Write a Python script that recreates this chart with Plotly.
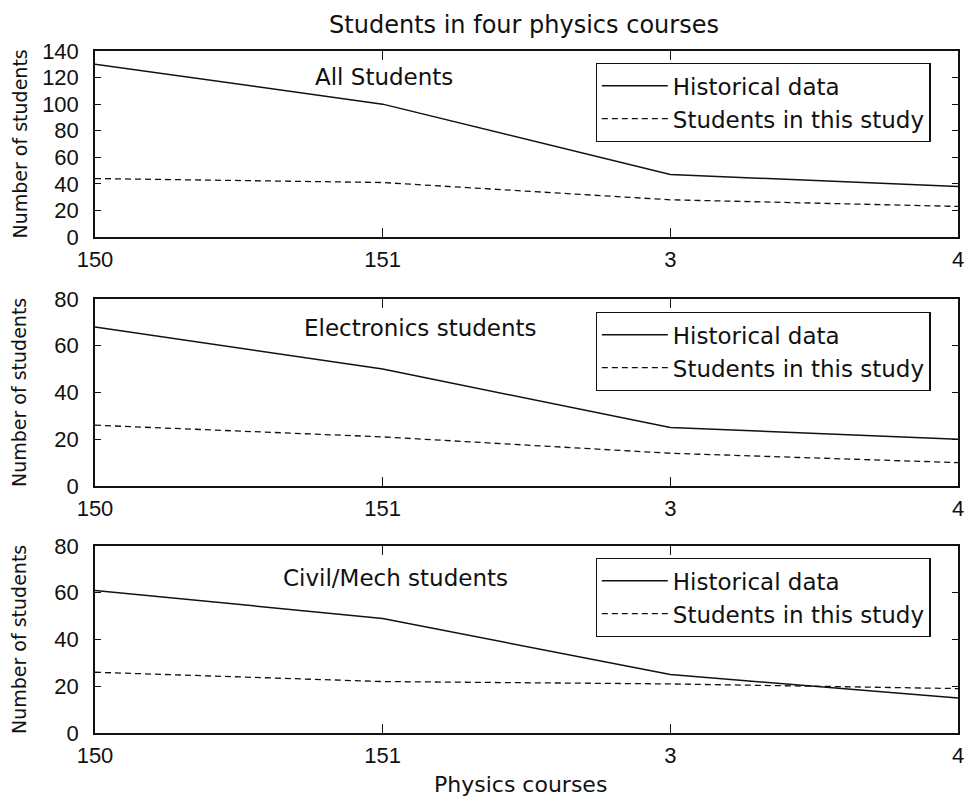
import plotly.graph_objects as go
from plotly.subplots import make_subplots

# Course sequence on the x axis
courses = ["150", "151", "3", "4"]

# Enrolment per course: historical records vs. students in this study
all_hist = [130, 100, 47, 38]
all_study = [44, 41, 28, 23]

elec_hist = [68, 50, 25, 20]
elec_study = [26, 21, 14, 10]

civ_hist = [61, 49, 25, 15]
civ_study = [26, 22, 21, 19]

panel_titles = ["All Students", "Electronics students", "Civil/Mech students"]
y_maxes = [140, 80, 80]

NUM_FONT = "Liberation Sans, Arial, Helvetica, sans-serif"
TXT_FONT = "DejaVu Sans, Verdana, sans-serif"
INK = "#111111"

W, H = 972, 798
ML, MR, MT, MB = 95, 8, 51, 65

fig = make_subplots(rows=3, cols=1, shared_xaxes=False, vertical_spacing=0.05)

# Vertical extent of each panel (paper fractions)
domains = [(0.7273, 1.0), (0.3622, 0.6364), (0.0, 0.2742)]
legend_tops = [0.9824, 0.6173, 0.2566]
label_pos = [(0.3354, 0.9619), (0.3769, 0.5938), (0.3487, 0.2273)]

series = [(all_hist, all_study), (elec_hist, elec_study), (civ_hist, civ_study)]

for i, (hist, study) in enumerate(series):
    row = i + 1
    leg = "legend" if i == 0 else f"legend{row}"
    fig.add_trace(go.Scatter(x=courses, y=hist, mode="lines", name="Historical data",
                             line=dict(color=INK, width=1.5), legend=leg), row=row, col=1)
    fig.add_trace(go.Scatter(x=courses, y=study, mode="lines", name="Students in this study",
                             line=dict(color=INK, width=1.3, dash="6px,4px"), legend=leg),
                  row=row, col=1)

    ax = dict(showline=True, linecolor=INK, linewidth=1.5, mirror="ticks",
              ticks="inside", tickcolor=INK, tickwidth=1.3,
              showgrid=False, zeroline=False)
    fig.update_xaxes(type="category", range=[0, 3], ticklen=9, ticklabelstandoff=2,
                     tickfont=dict(family=NUM_FONT, size=22, color=INK),
                     **ax, row=row, col=1)
    fig.update_yaxes(range=[0, y_maxes[i]], dtick=20, ticklen=6, ticklabelstandoff=10,
                     tickfont=dict(family=NUM_FONT, size=22, color=INK),
                     domain=list(domains[i]), **ax, row=row, col=1)

    yname = "y" if i == 0 else f"y{row}"
    fig.add_annotation(text="Number of students", textangle=-90, showarrow=False,
                       xref="paper", x=(19 - ML) / (W - ML - MR), xanchor="center",
                       yref=f"{yname} domain", y=0.5, yanchor="middle",
                       font=dict(family=TXT_FONT, size=19, color=INK))
    lx, ly = label_pos[i]
    fig.add_annotation(text=panel_titles[i], showarrow=False, xref="paper", yref="paper",
                       x=lx, y=ly, xanchor="center", yanchor="middle",
                       font=dict(family=TXT_FONT, size=23, color=INK))

legend_style = dict(x=(599 - ML) / (W - ML - MR), xanchor="left", yanchor="top",
                    bgcolor="white", bordercolor=INK, borderwidth=1.3,
                    font=dict(family=TXT_FONT, size=23, color=INK),
                    itemwidth=66, tracegroupgap=0)
fig.update_layout(
    legend=dict(y=legend_tops[0], **legend_style),
    legend2=dict(y=legend_tops[1], **legend_style),
    legend3=dict(y=legend_tops[2], **legend_style),
)

fig.add_annotation(text="Physics courses", showarrow=False, xref="paper", yref="paper",
                   x=(523 - ML) / (W - ML - MR), y=-(784 - (H - MB)) / (H - MT - MB),
                   xanchor="center", yanchor="middle",
                   font=dict(family=TXT_FONT, size=22, color=INK))

fig.update_layout(
    width=W, height=H,
    margin=dict(l=ML, r=MR, t=MT, b=MB),
    paper_bgcolor="white", plot_bgcolor="white",
    title=dict(text="Students in four physics courses", x=(527 - ML) / (W - ML - MR),
               xref="paper", xanchor="center", y=1 - 25 / H, yanchor="middle",
               font=dict(family=TXT_FONT, size=24, color=INK)),
)

fig.write_html("out.html")
